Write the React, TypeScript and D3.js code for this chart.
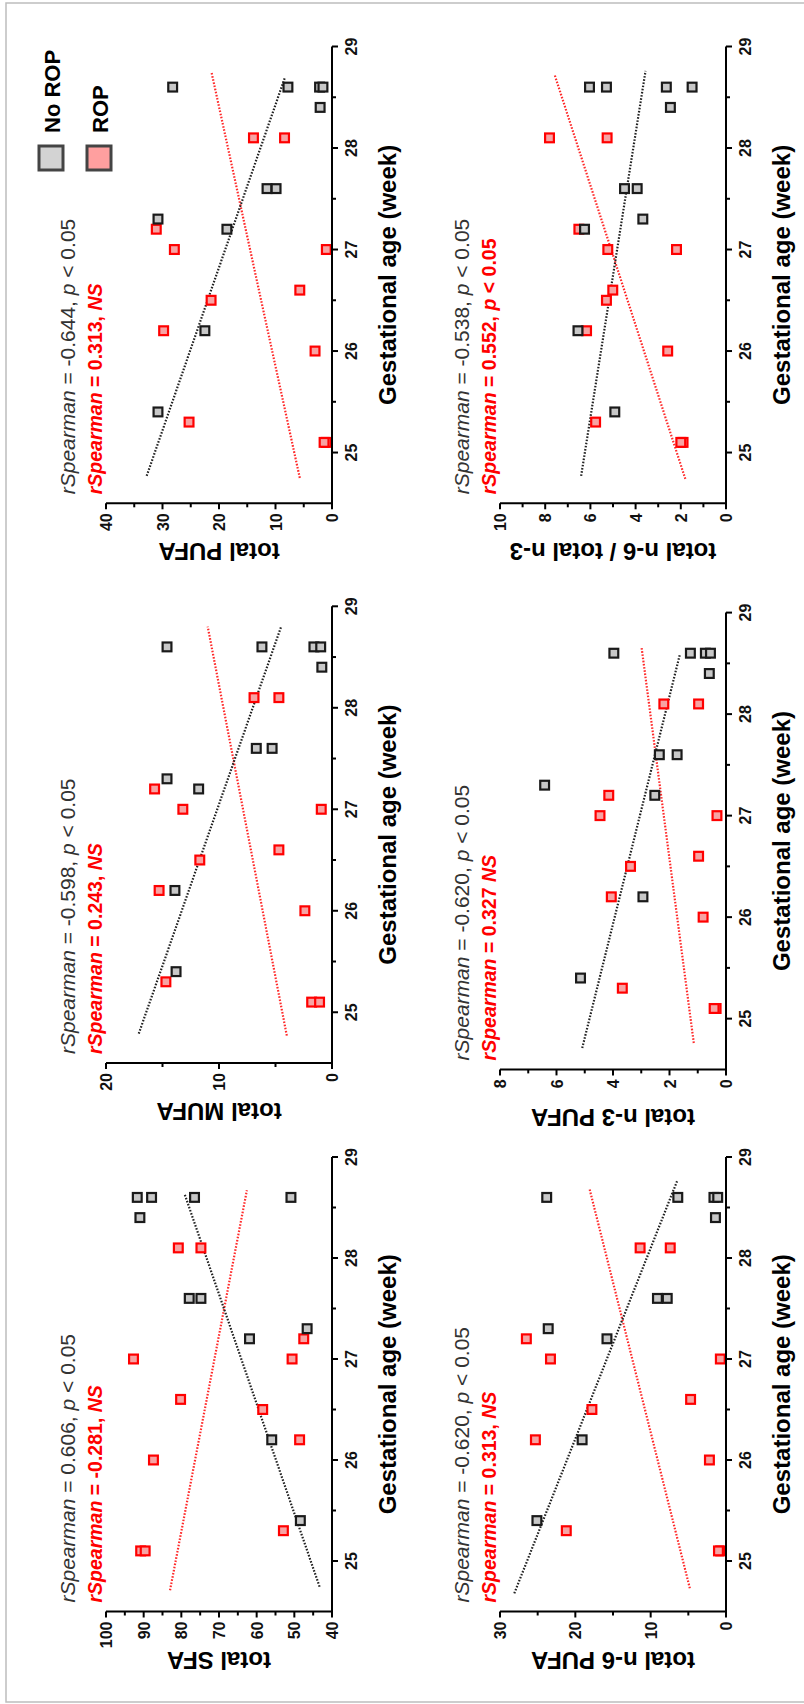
import React from 'react';
import * as d3 from 'd3';

// ---------- DATA ----------
const noRopAge = [28.6, 28.6, 28.6, 28.6, 28.4, 27.6, 27.6, 27.3, 27.2, 26.2, 25.4];
const ropAge = [28.1, 28.1, 27.2, 27.0, 27.0, 26.6, 26.5, 26.2, 26.0, 25.3, 25.1, 25.1];

const sfaNoRop = [91.7, 87.9, 76.5, 50.9, 91.0, 77.9, 74.8, 46.6, 61.9, 56.0, 48.4];
const sfaRop = [80.8, 74.8, 47.5, 92.7, 50.6, 80.2, 58.4, 48.6, 87.4, 52.9, 90.8, 89.6];
const mufaNoRop = [14.6, 6.2, 1.6, 1.0, 0.9, 6.7, 5.3, 14.6, 11.8, 13.9, 13.8];
const mufaRop = [6.9, 4.7, 15.7, 13.2, 0.95, 4.7, 11.7, 15.3, 2.4, 14.7, 1.8, 1.1];
const pufaNoRop = [28.2, 7.8, 2.2, 1.6, 2.1, 11.5, 9.9, 30.8, 18.6, 22.5, 30.8];
const pufaRop = [13.9, 8.4, 31.1, 27.9, 1.0, 5.7, 21.4, 29.8, 3.0, 25.3, 1.0, 1.4];
const n6NoRop = [23.8, 6.4, 1.6, 1.1, 1.4, 9.1, 7.8, 23.6, 15.8, 19.1, 25.1];
const n6Rop = [11.4, 7.4, 26.5, 23.3, 0.75, 4.7, 17.8, 25.3, 2.2, 21.2, 0.7, 1.0];
const n3NoRop = [3.97, 1.26, 0.73, 0.55, 0.59, 2.36, 1.73, 6.42, 2.52, 2.94, 5.15];
const n3Rop = [2.2, 0.97, 4.15, 4.46, 0.32, 0.97, 3.38, 4.06, 0.81, 3.67, 0.35, 0.42];
const ratioNoRop = [6.04, 5.29, 2.64, 1.5, 2.46, 4.49, 3.93, 3.68, 6.26, 6.55, 4.92];
const ratioRop = [7.81, 5.26, 6.51, 5.23, 2.19, 5.01, 5.29, 6.17, 2.58, 5.77, 1.9, 2.0];

// fit lines: [age0, value0, age1, value1]
const sfaFitNoRop = [24.745, 43.3, 28.64, 79.2];
const sfaFitRop = [24.71, 83.0, 28.67, 62.6];
const mufaFitNoRop = [24.79, 17.1, 28.8, 4.5];
const mufaFitRop = [24.77, 4.0, 28.8, 11.0];
const pufaFitNoRop = [24.77, 32.8, 28.7, 8.3];
const pufaFitRop = [24.75, 5.7, 28.74, 21.3];
const n6FitNoRop = [24.68, 28.1, 28.76, 6.5];
const n6FitRop = [24.73, 4.8, 28.68, 18.1];
const n3FitNoRop = [24.71, 5.09, 28.58, 1.64];
const n3FitRop = [24.76, 1.14, 28.66, 2.99];
const ratioFitNoRop = [24.77, 6.41, 28.76, 3.56];
const ratioFitRop = [24.74, 1.8, 28.72, 7.58];

const ageMajorTicks = [25, 26, 27, 28, 29];
const ageMinorTicks = [25.5, 26.5, 27.5, 28.5];
const ageDomain = [24.5, 29];

const legendLabels = ['No ROP', 'ROP'];
const xTitle = 'Gestational age (week)';

// ---------- PANELS ----------
const panels = [
  { title: 'total SFA', domain: [40, 100], major: 10, minor: 5, noRop: sfaNoRop, rop: sfaRop,
    fitNoRop: sfaFitNoRop, fitRop: sfaFitRop, black: ['0.606', 'p < 0.05'], red: ['-0.281', ', ', 'NS'], col: 0, top: 1157, bottom: 1611.5 },
  { title: 'total MUFA', domain: [0, 20], major: 10, minor: 5, noRop: mufaNoRop, rop: mufaRop,
    fitNoRop: mufaFitNoRop, fitRop: mufaFitRop, black: ['-0.598', 'p < 0.05'], red: ['0.243', ', ', 'NS'], col: 0, top: 606.3, bottom: 1063 },
  { title: 'total PUFA', domain: [0, 40], major: 10, minor: 5, noRop: pufaNoRop, rop: pufaRop,
    fitNoRop: pufaFitNoRop, fitRop: pufaFitRop, black: ['-0.644', 'p < 0.05'], red: ['0.313', ', ', 'NS'], col: 0, top: 46.5, bottom: 503.3 },
  { title: 'total n-6 PUFA', domain: [0, 30], major: 10, minor: 5, noRop: n6NoRop, rop: n6Rop,
    fitNoRop: n6FitNoRop, fitRop: n6FitRop, black: ['-0.620', 'p < 0.05'], red: ['0.313', ', ', 'NS'], col: 1, top: 1157, bottom: 1611.5 },
  { title: 'total n-3 PUFA', domain: [0, 8], major: 2, minor: 1, noRop: n3NoRop, rop: n3Rop,
    fitNoRop: n3FitNoRop, fitRop: n3FitRop, black: ['-0.620', 'p < 0.05'], red: ['0.327', ' ', 'NS'], col: 1, top: 612.6, bottom: 1069.4 },
  { title: 'total n-6 / total n-3', domain: [0, 10], major: 2, minor: 1, noRop: ratioNoRop, rop: ratioRop,
    fitNoRop: ratioFitNoRop, fitRop: ratioFitRop, black: ['-0.538', 'p < 0.05'], red: ['0.552', ', ', 'p < 0.05'], col: 1, top: 46.5, bottom: 503.3 },
];

const COLS = [{ x0: 332, x1: 106 }, { x0: 726, x1: 500 }];
const FONT = "'Liberation Sans', Arial, Helvetica, sans-serif";
const RED = '#ff0000';
const DARK = '#1a1a1a';

function Italicize({ s }: { s: string }) {
  if (s === 'NS') return <tspan fontStyle="italic">NS</tspan>;
  if (s.startsWith('p ')) return (<><tspan fontStyle="italic">p</tspan><tspan>{s.slice(1)}</tspan></>);
  return <tspan>{s}</tspan>;
}

function Panel({ p }: { p: any }) {
  const { x0, x1 } = COLS[p.col];
  const ageScale = d3.scaleLinear().domain(ageDomain).range([p.bottom, p.top]);
  const valScale = d3.scaleLinear().domain(p.domain).range([x0, x1]);
  const majors = d3.range(p.domain[0], p.domain[1] + 1e-9, p.major);
  const minors = d3.range(p.domain[0] + p.minor, p.domain[1], p.major);
  const sq = 11;
  const line = d3.line<[number, number]>().x(d => valScale(d[1])).y(d => ageScale(d[0]));
  const fitPath = (f: number[]) => line([[f[0], f[1]], [f[2], f[3]]]) || '';
  const midY = (p.top + p.bottom) / 2;
  const midX = (x0 + x1) / 2;
  return (
    <g>
      <path d={fitPath(p.fitRop)} stroke="#ff2a2a" strokeWidth={2.2} strokeDasharray="1.6,1.6" fill="none" />
      <path d={fitPath(p.fitNoRop)} stroke="#222" strokeWidth={2.2} strokeDasharray="1.6,1.6" fill="none" />
      {p.rop.map((v: number, i: number) => (
        <rect key={'r' + i} x={valScale(v) - sq / 2 + 1.1} y={ageScale(ropAge[i]) - sq / 2 + 1.1} width={sq - 2.2} height={sq - 2.2}
          fill="#f7a3a3" stroke={RED} strokeWidth={2.2} />
      ))}
      {p.noRop.map((v: number, i: number) => (
        <rect key={'b' + i} x={valScale(v) - sq / 2 + 1.1} y={ageScale(noRopAge[i]) - sq / 2 + 1.1} width={sq - 2.2} height={sq - 2.2}
          fill="#c8c8c8" stroke={DARK} strokeWidth={2.2} />
      ))}
      <line x1={x0} x2={x0} y1={p.bottom + 1} y2={ageScale(29)} stroke="#000" strokeWidth={2} />
      {ageMajorTicks.map(t => (
        <g key={'am' + t}>
          <line x1={x0} x2={x0 + 6} y1={ageScale(t)} y2={ageScale(t)} stroke="#000" strokeWidth={2} />
          <text transform={`translate(${x0 + 25},${ageScale(t)}) rotate(-90)`} textAnchor="middle"
            fontSize={16} fontWeight="bold" fontFamily={FONT} fill="#111">{t}</text>
        </g>
      ))}
      {ageMinorTicks.map(t => (
        <line key={'an' + t} x1={x0} x2={x0 + 4} y1={ageScale(t)} y2={ageScale(t)} stroke="#000" strokeWidth={2} />
      ))}
      <text transform={`translate(${x0 + 64},${midY}) rotate(-90)`} textAnchor="middle"
        fontSize={24} fontWeight="bold" fontFamily={FONT} fill="#000">{xTitle}</text>
      <line x1={x0 + 1} x2={x1} y1={p.bottom} y2={p.bottom} stroke="#000" strokeWidth={2} />
      {majors.map((t: number) => (
        <g key={'vm' + t}>
          <line x1={valScale(t)} x2={valScale(t)} y1={p.bottom} y2={p.bottom + 6} stroke="#000" strokeWidth={2} />
          <text transform={`translate(${valScale(t) + 6},${p.bottom + 10}) rotate(-90)`} textAnchor="end"
            fontSize={16} fontWeight="bold" fontFamily={FONT} fill="#111">{t}</text>
        </g>
      ))}
      {minors.map((t: number) => (
        <line key={'vn' + t} x1={valScale(t)} x2={valScale(t)} y1={p.bottom} y2={p.bottom + 4} stroke="#000" strokeWidth={2} />
      ))}
      <text transform={`translate(${midX},${p.bottom + 40}) rotate(180)`} textAnchor="middle"
        fontSize={24} fontWeight="bold" fontFamily={FONT} fill="#000">{p.title}</text>
      <text transform={`translate(${x0 - 257},${p.bottom - 9}) rotate(-90)`} fontSize={21} fontFamily={FONT} fill="#333">
        <tspan fontStyle="italic">rSpearman</tspan><tspan>{' = ' + p.black[0] + ', '}</tspan><Italicize s={p.black[1]} />
      </text>
      <text transform={`translate(${x0 - 230},${p.bottom - 9}) rotate(-90)`} fontSize={19.5} fontWeight="bold" fontFamily={FONT} fill={RED}>
        <tspan fontStyle="italic">rSpearman</tspan><tspan>{' = ' + p.red[0] + p.red[1]}</tspan><Italicize s={p.red[2]} />
      </text>
    </g>
  );
}

export default function App() {
  return (
    <svg width={804} height={1704} style={{ position: 'absolute', left: 0, top: 0, background: '#fff' }}>
      <rect x={0} y={0} width={804} height={1704} fill="#fff" />
      <rect x={6} y={3} width={820} height={1699} fill="none" stroke="#bdbdbd" strokeWidth={1.5} />
      {panels.map((p, i) => <Panel key={i} p={p} />)}
      <rect x={39} y={146} width={24} height={24} fill="#d3d3d3" stroke="#444" strokeWidth={3} />
      <rect x={87} y={146} width={24} height={24} fill="#ff9f9f" stroke="#444" strokeWidth={3} />
      <text transform="translate(60,133) rotate(-90)" fontSize={22} fontWeight="bold" fontFamily={FONT} fill="#000">{legendLabels[0]}</text>
      <text transform="translate(108,133) rotate(-90)" fontSize={22} fontWeight="bold" fontFamily={FONT} fill="#000">{legendLabels[1]}</text>
    </svg>
  );
}
